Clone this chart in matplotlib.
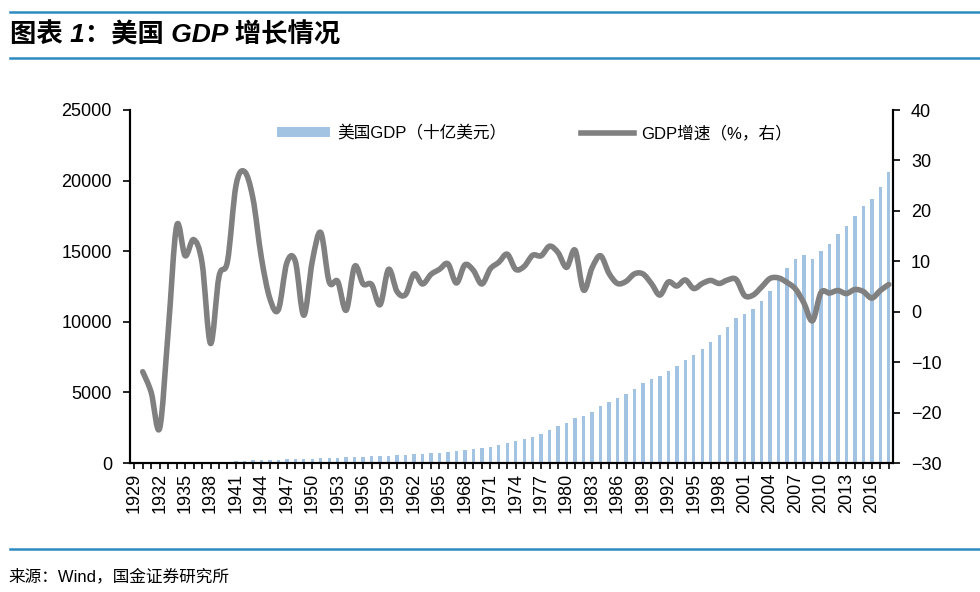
import matplotlib
matplotlib.use('Agg')
import matplotlib.pyplot as plt
import numpy as np
from matplotlib.path import Path
from matplotlib.patches import PathPatch
from matplotlib.lines import Line2D

plt.rcParams['font.family'] = ['Liberation Sans', 'Noto Sans CJK SC', 'DejaVu Sans']

years = list(range(1929, 2019))
gdp = [104.6, 92.2, 77.4, 59.5, 57.2, 66.8, 74.2, 84.8, 93.0, 87.4,
       93.4, 102.9, 129.3, 165.9, 203.1, 224.4, 228.0, 227.5, 249.6, 274.5,
       272.5, 299.8, 346.9, 367.3, 389.2, 390.5, 425.5, 449.4, 474.0, 481.2,
       521.7, 542.4, 562.2, 603.9, 637.5, 684.5, 742.3, 813.4, 860.0, 940.7,
       1017.6, 1073.3, 1164.9, 1279.1, 1425.4, 1545.2, 1684.9, 1873.4, 2081.8, 2351.6,
       2627.3, 2857.3, 3207.0, 3343.8, 3634.0, 4037.6, 4339.0, 4579.6, 4855.2, 5236.4,
       5641.6, 5963.1, 6158.1, 6520.3, 6858.6, 7287.2, 7639.7, 8073.1, 8577.6, 9062.8,
       9631.2, 10251.0, 10581.8, 10936.4, 11458.2, 12213.7, 13036.6, 13814.6, 14451.9, 14712.8,
       14448.9, 14992.1, 15542.6, 16197.0, 16784.9, 17527.3, 18224.8, 18715.0, 19519.4, 20580.2]

growth_years = list(range(1930, 2019))
growth = [-11.9, -16.0, -23.1, -4.0, 17.0, 11.1, 14.3, 9.7, -6.3, 7.0,
          10.0, 25.0, 27.8, 22.5, 10.7, 2.6, 0.4, 9.7, 10.0, -0.7,
          10.0, 15.7, 5.9, 6.0, 0.3, 9.0, 5.5, 5.4, 1.4, 8.4,
          4.0, 3.4, 7.5, 5.5, 7.4, 8.4, 9.5, 5.7, 9.3, 8.2,
          5.5, 8.5, 9.8, 11.4, 8.4, 9.0, 11.2, 11.1, 13.0, 11.7,
          8.8, 12.2, 4.3, 8.7, 11.1, 7.6, 5.6, 6.0, 7.5, 7.5,
          5.6, 3.3, 5.9, 5.1, 6.3, 4.6, 5.6, 6.2, 5.6, 6.3,
          6.4, 3.2, 3.3, 4.9, 6.6, 6.7, 5.8, 4.5, 1.7, -1.8,
          3.8, 3.7, 4.2, 3.6, 4.4, 4.0, 2.7, 4.2, 5.4]

BLUE_RULE = '#2e8bc0'
BAR_C = '#a3c3e3'
LINE_C = '#808080'


def smooth_path(xs, ys):
    # Excel-style smoothed line: cubic Bezier through every data point
    pts = np.column_stack([xs, ys]).astype(float)
    n = len(pts)
    verts = [pts[0]]
    codes = [Path.MOVETO]
    for i in range(n - 1):
        p0 = pts[max(i - 1, 0)]
        p1 = pts[i]
        p2 = pts[i + 1]
        p3 = pts[min(i + 2, n - 1)]
        verts += [p1 + (p2 - p0) / 6, p2 - (p3 - p1) / 6, p2]
        codes += [Path.CURVE4] * 3
    return Path(verts, codes)


fig = plt.figure(figsize=(9.8, 5.92), dpi=100)
ax = fig.add_axes([130/980, 1-463/592, 763/980, 353/592])
ax2 = ax.twinx()

bars = ax.bar(years, gdp, width=0.4, color=BAR_C)
ax2.add_patch(PathPatch(smooth_path(growth_years, growth), fill=False,
                        edgecolor=LINE_C, lw=4, joinstyle='round', capstyle='round'))
line = Line2D([], [], color=LINE_C, lw=4)

ax.set_xlim(1928.5, 2018.5)
ax.set_ylim(0, 25000)
ax.set_yticks(np.arange(0, 25001, 5000))
ax2.set_ylim(-30, 40)
ax2.set_yticks(np.arange(-30, 41, 10))

ax.set_xticks(years)
ax.set_xticklabels([str(y) if (y - 1929) % 3 == 0 else '' for y in years], rotation=90)

for a in (ax, ax2):
    a.spines['top'].set_visible(False)
    for s in ('left', 'right', 'bottom'):
        a.spines[s].set_linewidth(1.5)
        a.spines[s].set_color('black')
    a.tick_params(axis='y', labelsize=13, length=5, width=1.2, direction='out', pad=8)
ax.tick_params(axis='x', labelsize=13, length=4, width=1.2, direction='out', pad=3)

ax.legend([bars, line], ['美国GDP（十亿美元）', 'GDP增速（%，右）'],
          loc='upper center', bbox_to_anchor=(0.53, 1.0), ncol=2, frameon=False,
          fontsize=12, handlelength=3.2, handletextpad=0.4, columnspacing=4.5,
          handleheight=0.5)

# header and footer rules
for yy in (12, 58, 549):
    fig.lines.append(Line2D([0.01, 1.0], [1-yy/592, 1-yy/592], color=BLUE_RULE, lw=1.8,
                            transform=fig.transFigure))
fig.text(10/980, 1-35/592, '图表 1：美国 GDP 增长情况', fontsize=19, fontweight='bold',
         style='italic', va='center', ha='left')
fig.text(8/980, 1-576/592, '来源：Wind，国金证券研究所', fontsize=12, va='center', ha='left')

fig.savefig('out.png', dpi=100)
